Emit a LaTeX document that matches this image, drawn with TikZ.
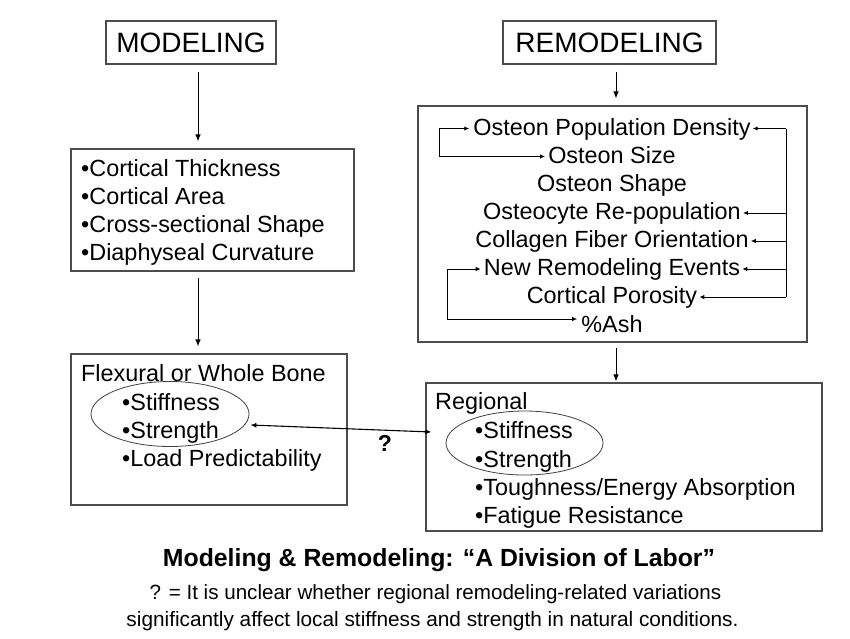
\documentclass[tikz,border=0pt]{standalone}
\usepackage{fontspec}
\setmainfont{Liberation Sans}
\usetikzlibrary{arrows.meta,calc,shapes.geometric}
\begin{document}
\begin{tikzpicture}[x=1pt,y=-1pt,
  box/.style={draw=black!70, line width=1.1pt, inner sep=0pt},
  arr/.style={-{Latex[length=7pt,width=5.5pt]}, line width=1pt},
  sarr/.style={-{Latex[length=5pt,width=4.5pt]}, line width=1pt},
  darr/.style={{Latex[length=6pt,width=5pt]}-{Latex[length=6pt,width=5pt]}, line width=1.1pt},
  body/.style={font=\fontsize{23.4}{27}\selectfont, inner sep=0pt},
  head/.style={font=\fontsize{28}{32}\selectfont, inner sep=0pt},
  ell/.style={draw=black!75, line width=0.8pt, ellipse, inner sep=0pt},
  lw/.style={anchor=base west},
  lc/.style={anchor=base}
]
\useasboundingbox[fill=white] (0,0) rectangle (850,638);

% header boxes
\node[box, head, minimum width=170pt, minimum height=43pt] (mod) at (191,42.5) {MODELING};
\node[box, head, minimum width=213pt, minimum height=43pt] (remod) at (609.5,42.5) {REMODELING};

% content boxes
\node[box, minimum width=283pt, minimum height=122pt] (cort) at (212.5,210) {};
\node[box, minimum width=276pt, minimum height=151pt] (flex) at (209,429.5) {};
\node[box, minimum width=389pt, minimum height=236pt] (rbox) at (612.5,224) {};
\node[box, minimum width=396pt, minimum height=148pt] (reg) at (624,457) {};

% cortical text
\node[body, lw] (c1) at (81,176) {•Cortical Thickness};
\node[body, lw] (c2) at (81,204) {•Cortical Area};
\node[body, lw] (c3) at (81,232) {•Cross-sectional Shape};
\node[body, lw] (c4) at (81,260) {•Diaphyseal Curvature};

% flexural text
\node[body, lw] (f0) at (81,381) {Flexural or Whole Bone};
\node[body, lw] (f1) at (122,410) {•Stiffness};
\node[body, lw] (f2) at (122,438) {•Strength};
\node[body, lw] (f3) at (122,466) {•Load Predictability};
\node[ell, minimum width=158pt, minimum height=65pt] (e1) at (170,414) {};

% regional text
\node[body, lw] (g0) at (435,409) {Regional};
\node[body, lw] (g1) at (475,438) {•Stiffness};
\node[body, lw] (g2) at (475,467) {•Strength};
\node[body, lw] (g3) at (475,495) {•Toughness/Energy Absorption};
\node[body, lw] (g4) at (475,523) {•Fatigue Resistance};
\node[ell, minimum width=157pt, minimum height=64pt] (e2) at (524.5,443) {};

% remodeling list
\node[body, lc] (r1) at (612,135) {Osteon Population Density};
\node[body, lc] (r2) at (612,163) {Osteon Size};
\node[body, lc] (r3) at (612,191) {Osteon Shape};
\node[body, lc] (r4) at (612,219.5) {Osteocyte Re-population};
\node[body, lc] (r5) at (612,247.5) {Collagen Fiber Orientation};
\node[body, lc] (r6) at (612,275.5) {New Remodeling Events};
\node[body, lc] (r7) at (612,303.5) {Cortical Porosity};
\node[body, lc] (r8) at (612,332) {\%Ash};

% main flow arrows
\coordinate (xL) at (198,0);
\coordinate (xR) at (616,0);
\draw[arr, shorten <=7pt, shorten >=7pt] (mod.south -| xL) -- (cort.north -| xL);
\draw[arr, shorten <=6pt, shorten >=7pt] (cort.south -| xL) -- (flex.north -| xL);
\draw[arr, shorten <=7pt, shorten >=7pt] (remod.south -| xR) -- (rbox.north -| xR);
\draw[arr, shorten <=5pt, shorten >=1pt] (rbox.south -| xR) -- (reg.north -| xR);

% question arrow
\coordinate (qa) at ($(e1.east)+(1,11)$);
\coordinate (qb) at ($(reg.west)+(6,-25)$);
\draw[darr] (qa) -- (qb);
\node[font=\bfseries\fontsize{23}{27}\selectfont, inner sep=0pt] (q) at (385,443) {?};

% right feedback bus
\coordinate (bus) at (786,0);
\coordinate (t1) at ($(r1.base east)+(2,-6.5)$);
\coordinate (t4) at ($(r4.base east)+(2,-6.5)$);
\coordinate (t5) at ($(r5.base east)+(2,-6.5)$);
\coordinate (t6) at ($(r6.base east)+(2,-6.5)$);
\coordinate (t7) at ($(r7.base east)+(2,-6.5)$);
\draw[line width=1pt] (t1 -| bus) -- (t7 -| bus);
\draw[sarr] (t1 -| bus) -- (t1);
\draw[sarr] (t4 -| bus) -- (t4);
\draw[sarr] (t5 -| bus) -- (t5);
\draw[sarr] (t6 -| bus) -- (t6);
\draw[sarr] (t7 -| bus) -- (t7);

% left loops
\coordinate (lA) at (439,0);
\coordinate (lB) at (447,0);
\coordinate (a1) at ($(r1.base west)+(-4,-6.5)$);
\coordinate (a2) at ($(r2.base west)+(-3,-6.5)$);
\coordinate (a6) at ($(r6.base west)+(-3,-6.5)$);
\coordinate (a8) at ($(r8.base west)+(-4,-13)$);
\draw[sarr] (a1 -| lA) -- (a1);
\draw[sarr] (a1 -| lA) -- (a2 -| lA) -- (a2);
\draw[sarr] (a6 -| lB) -- (a6);
\draw[sarr] (a6 -| lB) -- (a8 -| lB) -- (a8);

% caption
\node[font=\bfseries\fontsize{24.8}{28}\selectfont, lc, inner sep=0pt] (title) at (439,566) {Modeling \& Remodeling: “A Division of Labor”};
\node[font=\fontsize{20.6}{24}\selectfont, lc, inner sep=0pt] (n1) at (435.5,599) {? = It is unclear whether regional remodeling-related variations};
\node[font=\fontsize{20.8}{24}\selectfont, lc, inner sep=0pt] (n2) at (432.5,626) {significantly affect local stiffness and strength in natural conditions.};
\end{tikzpicture}
\end{document}
